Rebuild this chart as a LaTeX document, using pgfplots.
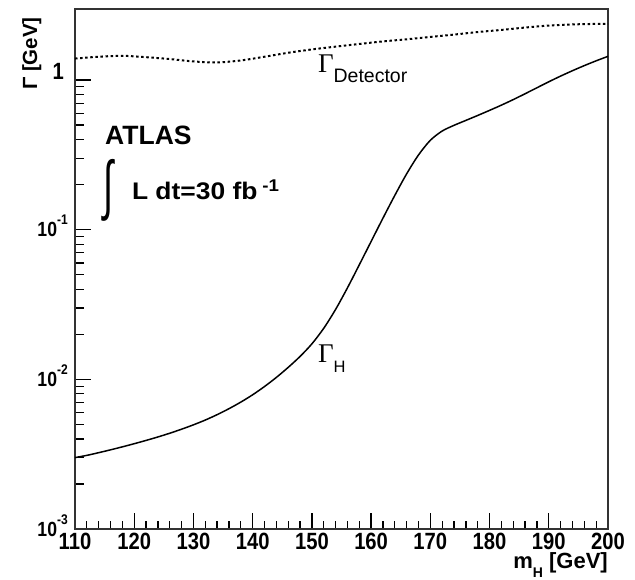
\documentclass[border=0pt]{standalone}
\usepackage{pgfplots}
\pgfplotsset{compat=1.18}
\usepackage{graphicx}
\usepackage{fontspec}
\setmainfont{Liberation Sans}
\newfontfamily\serifG{Liberation Serif}
\newfontfamily\tickfont[FakeStretch=0.86]{Liberation Sans}
\newfontfamily\widefont[FakeStretch=1.1]{Liberation Sans}

\newcommand\fs[1]{\fontsize{#1}{#1}\selectfont}
% power-of-ten tick label in ROOT style
\newcommand\pten[1]{{\fs{20.5bp}10}\raisebox{12bp}{\fs{14bp}#1}}

% Higgs width Gamma_H [GeV]
\pgfplotstableread{
m     w
110   0.003000
112   0.003105
114   0.003236
116   0.003381
118   0.003540
120   0.003715
122   0.003908
124   0.004121
126   0.004365
128   0.004645
130   0.004966
132   0.005346
134   0.005808
136   0.006368
138   0.007047
140   0.007889
142   0.008954
144   0.01030
146   0.01202
148   0.01422
150   0.01726
152   0.02193
154   0.02931
156   0.04083
158   0.05821
160   0.08337
162   0.1194
164   0.1694
166   0.2360
168   0.3155
170   0.3954
172   0.4560
174   0.4977
176   0.5370
178   0.5794
180   0.6266
182   0.6792
184   0.7396
186   0.8091
188   0.8872
190   0.9727
192   1.0617
194   1.1535
196   1.2474
198   1.3428
200   1.4388
}\higgswidth

% detector mass resolution Gamma_Detector [GeV]
\pgfplotstableread{
m     w
110   1.39
114   1.43
118   1.45
122   1.42
126   1.38
130   1.33
134   1.31
138   1.35
142   1.43
146   1.52
150   1.60
154   1.67
158   1.74
162   1.81
166   1.87
170   1.94
174   2.01
178   2.09
182   2.16
186   2.24
190   2.31
194   2.35
198   2.37
200   2.37
}\detwidth

\begin{document}
\begin{tikzpicture}
\begin{axis}[
  name=ax,
  scale only axis,
  width=533bp, height=520bp,
  xmin=110, xmax=200,
  ymode=log, ymin=1e-3, ymax=2.98,
  axis line style={black!80, line width=1.6bp},
  tick style={black, line width=1.3bp},
  major tick length=16bp, minor tick length=8.5bp,
  tick align=inside, tick pos=left,
  xtick={110,120,130,140,150,160,170,180,190,200},
  xticklabels={110,120,130,140,150,160,170,180,190,200},
  minor x tick num=4,
  ytick={0.001,0.01,0.1,1},
  yticklabels={\pten{-3},\pten{-2},\pten{-1},\raisebox{7bp}{1\hspace{4bp}}},
  xticklabel style={font=\tickfont\bfseries\fs{23.5bp}, inner sep=0pt, anchor=north, yshift=-4bp},
  yticklabel style={font=\tickfont\bfseries\fs{23.5bp}, inner sep=0pt, anchor=base east, xshift=-7bp, yshift=-7bp},
  clip=false,
]
\addplot[black, line width=1.5bp, smooth, tension=0.5] table[x=m, y=w] {\higgswidth};
\addplot[black, line width=2bp, dash pattern=on 2.5bp off 2.6bp, smooth] table[x=m, y=w] {\detwidth};

\node[anchor=base west, inner sep=0] at (axis cs:151,1.13)
  {{\serifG\fs{27bp}Γ}\raisebox{-10bp}{\fs{19.5bp}Detector}};
\node[anchor=base west, inner sep=0] at (axis cs:151,0.0130)
  {{\serifG\fs{27bp}Γ}\raisebox{-10bp}{\fs{16.5bp}H}};

\node[anchor=base west, inner sep=0] at (axis cs:115.07,0.373)
  {\bfseries\fs{26.5bp}ATLAS};
\node[anchor=north west, inner sep=0] at (axis cs:114.7,0.296)
  {\resizebox*{10bp}{62bp}{∫}};
\node[anchor=base west, inner sep=0] at (axis cs:119.6,0.160)
  {\widefont\bfseries\fs{24bp}L dt=30 fb\hspace{5bp}\raisebox{8bp}{\fs{17bp}-1}};
\end{axis}

% axis titles
\node[anchor=base east, inner sep=0] at ([yshift=-39bp]ax.south east)
  {\bfseries\fs{22bp}m\raisebox{-9bp}{\fs{14bp}H} [GeV]};
\node[rotate=90, anchor=base east, inner sep=0] at ([xshift=-38bp, yshift=-8bp]ax.north west)
  {\bfseries\fs{20.5bp}Γ [GeV]};

\pgfresetboundingbox
\path ([xshift=-75bp, yshift=-50bp]ax.south west) rectangle ([xshift=27bp, yshift=9bp]ax.north east);
\end{tikzpicture}
\end{document}
